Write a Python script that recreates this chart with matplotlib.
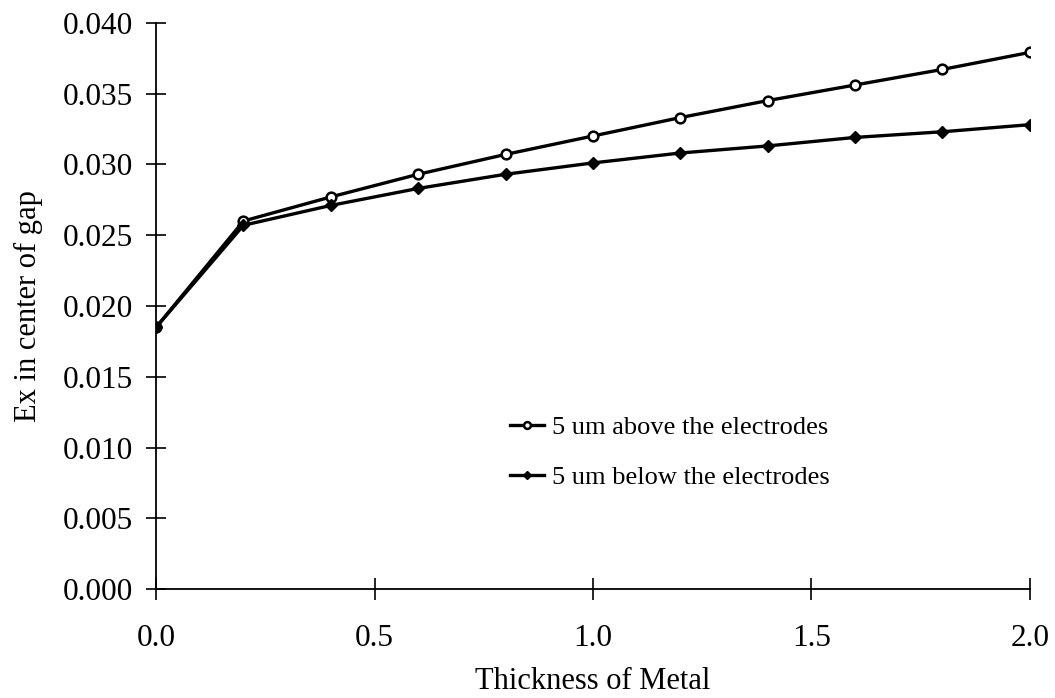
import matplotlib.pyplot as plt
import numpy as np

# metal thickness and Ex sampled 5 um above / below the electrodes
thickness = [0.0, 0.2, 0.4, 0.6, 0.8, 1.0, 1.2, 1.4, 1.6, 1.8, 2.0]
ex_above = [0.0185, 0.0260, 0.0277, 0.0293, 0.0307, 0.0320, 0.0333, 0.0345, 0.0356, 0.0367, 0.0379]
ex_below = [0.0185, 0.0257, 0.0271, 0.0283, 0.0293, 0.0301, 0.0308, 0.0313, 0.0319, 0.0323, 0.0328]

x_ticks = [0.0, 0.5, 1.0, 1.5, 2.0]
y_ticks = [0.000, 0.005, 0.010, 0.015, 0.020, 0.025, 0.030, 0.035, 0.040]

plt.rcParams['font.family'] = ['Liberation Serif', 'DejaVu Serif']

fig = plt.figure(figsize=(10.55, 6.98), dpi=100)
ax = fig.add_axes([0.148, 0.1557, 0.828, 0.8118])

ax.plot(thickness, ex_above, color='black', linewidth=2.4, marker='o',
        markersize=7, markerfacecolor='white', markeredgewidth=1.8,
        label='5 um above the electrodes', zorder=3)
ax.plot(thickness, ex_below, color='black', linewidth=2.4, marker='D',
        markersize=6.5, markerfacecolor='black',
        label='5 um below the electrodes', zorder=3)

ax.set_xlim(0, 2.0)
ax.set_ylim(0, 0.040)
ax.set_xticks(x_ticks)
ax.set_yticks(y_ticks)
ax.set_xticklabels(['%.1f' % v for v in x_ticks])
ax.set_yticklabels(['%.3f' % v for v in y_ticks])

# only the two axis lines, with ticks crossing them
for side in ['top', 'right']:
    ax.spines[side].set_visible(False)
for side in ['left', 'bottom']:
    ax.spines[side].set_linewidth(1.3)
ax.tick_params(axis='y', direction='inout', length=14, width=1.2, pad=10, labelsize=22.5)
ax.tick_params(axis='x', direction='inout', length=16, width=1.2, pad=17, labelsize=22.5)

ax.set_xlabel('Thickness of Metal', fontsize=22, labelpad=10)
ax.set_ylabel('Ex in center of gap', fontsize=22, labelpad=14)

ax.legend(loc='center left', bbox_to_anchor=(0.405, 0.242), frameon=False,
          fontsize=19, handlelength=1.3, handletextpad=0.3, labelspacing=1.0,
          markerscale=0.7, borderpad=0, borderaxespad=0)

fig.savefig('out.png', dpi=100)
